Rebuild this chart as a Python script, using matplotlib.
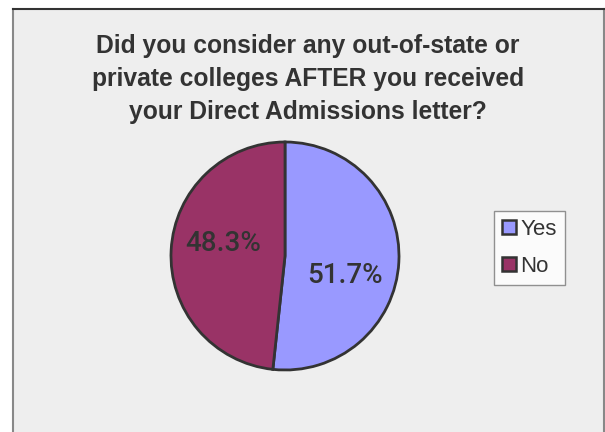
import matplotlib
matplotlib.use("Agg")
import matplotlib.pyplot as plt
from matplotlib.patches import Rectangle, Patch
from matplotlib.lines import Line2D

# Data
labels = ["Yes", "No"]
shares = [51.7, 48.3]
colors = ["#9999FF", "#993366"]
title = ("Did you consider any out-of-state or\n"
         "private colleges AFTER you received\n"
         "your Direct Admissions letter?")

W, H = 605, 432
fig = plt.figure(figsize=(W / 100, H / 100), dpi=100)
fig.patch.set_facecolor("white")

# chart area background + border
bg = Rectangle((12.5 / W, -0.01), (603.5 - 12.5) / W, (H - 9) / H + 0.01,
               transform=fig.transFigure, facecolor="#EEEEEE",
               edgecolor="none", zorder=-10)
fig.patches.append(bg)
fig.lines.append(Line2D([12.5 / W, 12.5 / W], [-0.01, (H - 9) / H],
                        transform=fig.transFigure, color="#888888", lw=1.5, zorder=-5))
fig.lines.append(Line2D([603.5 / W, 603.5 / W], [-0.01, (H - 9) / H],
                        transform=fig.transFigure, color="#888888", lw=1.5, zorder=-5))
fig.lines.append(Line2D([12.5 / W, 603.5 / W], [(H - 9) / H, (H - 9) / H],
                        transform=fig.transFigure, color="#333333", lw=1.5, zorder=-5))

fig.text(308 / W, 1 - 79 / H, title, ha="center", va="center",
         fontsize=17.7, family="Liberation Sans", fontweight="bold",
         color="#333333", linespacing=1.5)

# pie axes
cx, cy, r = 285, 256, 114
pad = 1.03
ax = fig.add_axes([(cx - r * pad) / W, (H - cy - r * pad) / H,
                   2 * r * pad / W, 2 * r * pad / H])
wedges, texts, autotexts = ax.pie(
    shares, colors=colors, startangle=90, counterclock=False,
    autopct="%.1f%%", pctdistance=0.55,
    wedgeprops=dict(edgecolor="#333333", linewidth=2),
    textprops=dict(fontsize=20, family="Roboto", fontweight="medium",
                   color="#333333"))
ax.set_xlim(-pad, pad)
ax.set_ylim(-pad, pad)
ax.set_aspect("equal")
ax.axis("off")

# nudge labels to match the reference placement
autotexts[0].set_position((0.53, -0.17))
autotexts[1].set_position((-0.54, 0.11))

handles = [Patch(facecolor=c, edgecolor="#333333", linewidth=1.8) for c in colors]
leg = fig.legend(handles, labels, loc="center", bbox_to_anchor=(529.5 / W, 1 - 248 / H),
                 prop=dict(family="Liberation Sans", size=16), frameon=True,
                 fancybox=False, handlelength=0.6, handleheight=0.6,
                 handletextpad=0.2, labelspacing=0.72, borderpad=0.38,
                 labelcolor="#333333")
leg.get_frame().set_edgecolor("#777777")
leg.get_frame().set_facecolor("white")
leg.get_frame().set_linewidth(1.0)

fig.savefig("out.png", dpi=100, facecolor=fig.get_facecolor())
